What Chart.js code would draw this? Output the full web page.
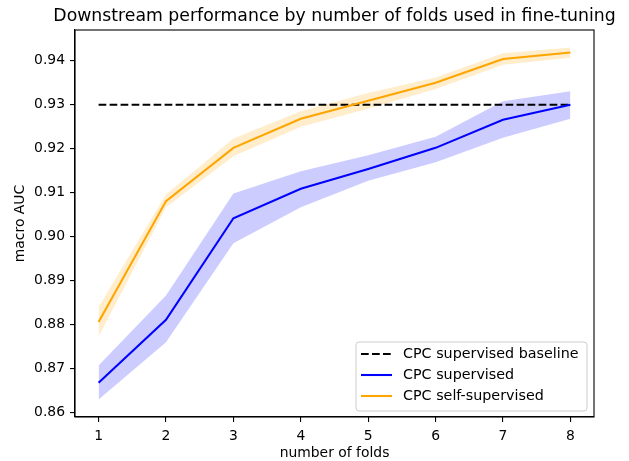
<!DOCTYPE html>
<html><head><meta charset="utf-8">
<script src="https://cdn.jsdelivr.net/npm/chart.js@4"></script>
<style>html,body{margin:0;padding:0;background:#fff}</style>
</head><body>
<canvas id="c" width="629" height="461"></canvas>
<script>
const folds = [1, 2, 3, 4, 5, 6, 7, 8];
const selfSup = [0.8806, 0.9081, 0.9202, 0.9268, 0.9309, 0.9350, 0.9404, 0.9419];
const selfSupLow = [0.8773, 0.9067, 0.9183, 0.9250, 0.9291, 0.9336, 0.9391, 0.9407];
const selfSupHigh = [0.8840, 0.9096, 0.9223, 0.9285, 0.9327, 0.9362, 0.9417, 0.9430];
const sup = [0.8668, 0.8811, 0.9042, 0.9109, 0.9154, 0.9202, 0.9266, 0.9300];
const supLow = [0.8630, 0.8760, 0.8985, 0.9067, 0.9127, 0.9169, 0.9225, 0.9268];
const supHigh = [0.8707, 0.8866, 0.9098, 0.9149, 0.9185, 0.9227, 0.9308, 0.9331];
const baseline = 0.93;
const yTicks = [0.86, 0.87, 0.88, 0.89, 0.90, 0.91, 0.92, 0.93, 0.94];
const xTicks = [1, 2, 3, 4, 5, 6, 7, 8];
const titleText = 'Downstream performance by number of folds used in fine-tuning';
const xLabel = 'number of folds';
const yLabel = 'macro AUC';
const legendLabels = ['CPC supervised baseline', 'CPC supervised', 'CPC self-supervised'];

const BLUE = '#0000ff', ORANGE = '#ffa500';
const pts = arr => folds.map((f, i) => ({x: f, y: arr[i]}));
const FONT = '"DejaVu Sans", sans-serif';
const LW = 2.08;

const band = (arr, color, fill, order) => ({
  data: pts(arr), borderWidth: 0, pointRadius: 0, borderColor: 'rgba(0,0,0,0)',
  backgroundColor: color, fill: fill, order: order, tension: 0
});

const overlay = {
  id: 'overlay',
  afterDraw(chart) {
    const ctx = chart.ctx, a = chart.chartArea;
    ctx.save();
    ctx.strokeStyle = '#000'; ctx.lineWidth = 1.1;
    ctx.strokeRect(a.left, a.top, a.right - a.left, a.bottom - a.top);
    ctx.fillStyle = '#000';
    ctx.textAlign = 'center'; ctx.textBaseline = 'middle';
    ctx.font = '17.3px ' + FONT;
    ctx.fillText(titleText, (a.left + a.right) / 2, 17);
    ctx.font = '13.9px ' + FONT;
    ctx.fillText(xLabel, (a.left + a.right) / 2, 453);
    ctx.translate(20, (a.top + a.bottom) / 2);
    ctx.rotate(-Math.PI / 2);
    ctx.fillText(yLabel, 0, 0);
    ctx.restore();
    // legend
    ctx.save();
    const lx = 356, ly = 342, lw = 231, lh = 69, r = 3;
    ctx.beginPath();
    ctx.moveTo(lx + r, ly); ctx.lineTo(lx + lw - r, ly); ctx.arcTo(lx + lw, ly, lx + lw, ly + r, r);
    ctx.lineTo(lx + lw, ly + lh - r); ctx.arcTo(lx + lw, ly + lh, lx + lw - r, ly + lh, r);
    ctx.lineTo(lx + r, ly + lh); ctx.arcTo(lx, ly + lh, lx, ly + lh - r, r);
    ctx.lineTo(lx, ly + r); ctx.arcTo(lx, ly, lx + r, ly, r); ctx.closePath();
    ctx.fillStyle = 'rgba(255,255,255,0.8)'; ctx.fill();
    ctx.strokeStyle = '#cccccc'; ctx.lineWidth = 1; ctx.stroke();
    const rows = [354, 375, 396];
    const cols = ['#000', BLUE, ORANGE];
    rows.forEach((y, i) => {
      ctx.beginPath();
      ctx.strokeStyle = cols[i]; ctx.lineWidth = LW;
      ctx.setLineDash(i === 0 ? [7.7, 3.3] : []);
      ctx.moveTo(361, y); ctx.lineTo(392, y); ctx.stroke();
      ctx.setLineDash([]);
      ctx.fillStyle = '#000'; ctx.font = '14.3px ' + FONT;
      ctx.textAlign = 'left'; ctx.textBaseline = 'middle';
      ctx.fillText(legendLabels[i], 403, y);
    });
    ctx.restore();
  }
};

new Chart(document.getElementById('c'), {
  type: 'line',
  data: {
    datasets: [
      band(supLow, 'rgba(0,0,255,0.2)', false, 6),
      band(supHigh, 'rgba(0,0,255,0.2)', '-1', 5),
      band(selfSupLow, 'rgba(255,165,0,0.2)', false, 4),
      band(selfSupHigh, 'rgba(255,165,0,0.2)', '-1', 3),
      { label: legendLabels[0], data: [{x: folds[0], y: baseline}, {x: folds[folds.length - 1], y: baseline}],
        borderColor: '#000', borderWidth: LW, borderDash: [7.7, 3.3], pointRadius: 0, fill: false, order: 2 },
      { label: legendLabels[1], data: pts(sup), borderColor: BLUE, borderWidth: LW, pointRadius: 0, fill: false, order: 1 },
      { label: legendLabels[2], data: pts(selfSup), borderColor: ORANGE, borderWidth: LW, pointRadius: 0, fill: false, order: 0 }
    ]
  },
  options: {
    responsive: false, animation: false, devicePixelRatio: 1,
    layout: { padding: { top: 30, right: 35, left: 0, bottom: 0 } },
    plugins: { legend: { display: false }, title: { display: false }, tooltip: { enabled: false } },
    scales: {
      x: {
        type: 'linear', min: 0.65, max: 8.35,
        afterFit(s) { s.height = 44; },
        afterBuildTicks(s) { s.ticks = xTicks.map(v => ({value: v})); },
        grid: { drawOnChartArea: false, drawTicks: true, tickLength: 5, color: '#000', lineWidth: 1.1 },
        border: { display: true, color: '#000', width: 1.1 },
        ticks: { color: '#000', font: { family: FONT, size: 13.9 }, padding: 6, maxRotation: 0,
          callback: v => String(v) }
      },
      y: {
        type: 'linear', min: 0.8590, max: 0.9470,
        afterFit(s) { s.width = 75; },
        afterBuildTicks(s) { s.ticks = yTicks.map(v => ({value: v})); },
        grid: { drawOnChartArea: false, drawTicks: true, tickLength: 5, color: '#000', lineWidth: 1.1 },
        border: { display: true, color: '#000', width: 1.1 },
        ticks: { color: '#000', font: { family: FONT, size: 13.9 }, padding: 5,
          callback: v => Number(v).toFixed(2) }
      }
    }
  },
  plugins: [overlay]
});
</script>
</body></html>
